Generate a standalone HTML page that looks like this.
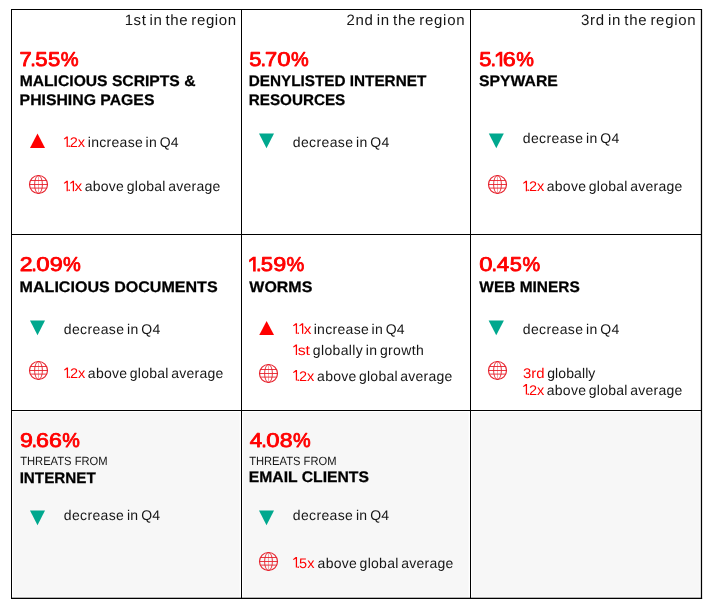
<!DOCTYPE html>
<html><head><meta charset="utf-8">
<style>
html,body{margin:0;padding:0;background:#fff;}
body{width:712px;height:609px;overflow:hidden;}
svg{display:block;will-change:transform;font-family:"Liberation Sans",sans-serif;}
text{white-space:pre;text-rendering:geometricPrecision;}
</style></head><body>
<svg width="712" height="609" viewBox="0 0 712 609">
<g fill="#f7f7f7"><rect x="13.2" y="412.2" width="226.5" height="184.4"/><rect x="243.3" y="412.2" width="225.3" height="184.4"/><rect x="472.2" y="412.2" width="227.5" height="184.4"/></g>
<g fill="#000" shape-rendering="crispEdges">
<rect x="11" y="9" width="691" height="1"/>
<rect x="11" y="234" width="691" height="1"/>
<rect x="11" y="410" width="691" height="1"/>
<rect x="11" y="9" width="1" height="590"/>
<rect x="241" y="9" width="1" height="590"/>
<rect x="470" y="9" width="1" height="590"/>
</g>
<rect x="11" y="597.7" width="691.1" height="1.3" fill="#000"/><rect x="700.85" y="9" width="1.25" height="590" fill="#000"/>
<text x="124.66" y="25.00" font-size="15" fill="#151515" textLength="111.48" lengthAdjust="spacing" word-spacing="-1.73">1st in the region</text>
<text x="346.45" y="25.00" font-size="15" fill="#151515" textLength="118.11" lengthAdjust="spacing" word-spacing="-1.73">2nd in the region</text>
<text x="580.98" y="25.00" font-size="15" fill="#151515" textLength="114.72" lengthAdjust="spacing" word-spacing="-1.73">3rd in the region</text>
<text transform="translate(19.41,66.00) scale(1.098,1)" font-size="20.0" fill="#ff0000" stroke="#ff0000" stroke-width="0.8" stroke-linejoin="round">7</text>
<text transform="translate(30.34,66.00) scale(1.004,1)" font-size="20.0" fill="#ff0000" stroke="#ff0000" stroke-width="0.8" stroke-linejoin="round">.</text>
<text transform="translate(35.25,66.00) scale(1.106,1)" font-size="20.0" fill="#ff0000" stroke="#ff0000" stroke-width="0.8" stroke-linejoin="round">5</text>
<text transform="translate(47.88,66.00) scale(1.106,1)" font-size="20.0" fill="#ff0000" stroke="#ff0000" stroke-width="0.8" stroke-linejoin="round">5</text>
<text transform="translate(60.68,66.00) scale(1.003,1)" font-size="20.0" fill="#ff0000" stroke="#ff0000" stroke-width="0.8" stroke-linejoin="round">%</text>
<text transform="translate(249.31,66.00) scale(1.097,1)" font-size="20.0" fill="#ff0000" stroke="#ff0000" stroke-width="0.8" stroke-linejoin="round">5</text>
<text transform="translate(260.41,66.00) scale(0.997,1)" font-size="20.0" fill="#ff0000" stroke="#ff0000" stroke-width="0.8" stroke-linejoin="round">.</text>
<text transform="translate(265.04,66.00) scale(1.090,1)" font-size="20.0" fill="#ff0000" stroke="#ff0000" stroke-width="0.8" stroke-linejoin="round">7</text>
<text transform="translate(277.30,66.00) scale(1.195,1)" font-size="20.0" fill="#ff0000" stroke="#ff0000" stroke-width="0.8" stroke-linejoin="round">0</text>
<text transform="translate(291.12,66.00) scale(0.995,1)" font-size="20.0" fill="#ff0000" stroke="#ff0000" stroke-width="0.8" stroke-linejoin="round">%</text>
<text transform="translate(479.31,66.00) scale(1.095,1)" font-size="20.0" fill="#ff0000" stroke="#ff0000" stroke-width="0.8" stroke-linejoin="round">5</text>
<text transform="translate(490.39,66.00) scale(0.995,1)" font-size="20.0" fill="#ff0000" stroke="#ff0000" stroke-width="0.8" stroke-linejoin="round">.</text>
<polygon fill="#ff0000" points="495.69,54.70 499.64,51.80 502.27,51.80 502.27,66.40 499.64,66.40 499.64,54.80 496.19,57.30 495.69,57.00"/>
<text x="493.69" y="66.00" font-size="20.0" fill="none">1</text>
<text transform="translate(502.80,66.00) scale(1.162,1)" font-size="20.0" fill="#ff0000" stroke="#ff0000" stroke-width="0.8" stroke-linejoin="round">6</text>
<text transform="translate(516.15,66.00) scale(0.993,1)" font-size="20.0" fill="#ff0000" stroke="#ff0000" stroke-width="0.8" stroke-linejoin="round">%</text>
<text transform="translate(19.80,271.00) scale(1.153,1)" font-size="20.0" fill="#ff0000" stroke="#ff0000" stroke-width="0.8" stroke-linejoin="round">2</text>
<text transform="translate(31.30,271.00) scale(1.001,1)" font-size="20.0" fill="#ff0000" stroke="#ff0000" stroke-width="0.8" stroke-linejoin="round">.</text>
<text transform="translate(36.18,271.00) scale(1.200,1)" font-size="20.0" fill="#ff0000" stroke="#ff0000" stroke-width="0.8" stroke-linejoin="round">0</text>
<text transform="translate(49.70,271.00) scale(1.168,1)" font-size="20.0" fill="#ff0000" stroke="#ff0000" stroke-width="0.8" stroke-linejoin="round">9</text>
<text transform="translate(63.04,271.00) scale(0.999,1)" font-size="20.0" fill="#ff0000" stroke="#ff0000" stroke-width="0.8" stroke-linejoin="round">%</text>
<polygon fill="#ff0000" points="249.10,259.70 253.07,256.80 255.72,256.80 255.72,271.40 253.07,271.40 253.07,259.80 249.60,262.30 249.10,262.00"/>
<text x="247.10" y="271.00" font-size="20.0" fill="none">1</text>
<text transform="translate(255.89,271.00) scale(1.001,1)" font-size="20.0" fill="#ff0000" stroke="#ff0000" stroke-width="0.8" stroke-linejoin="round">.</text>
<text transform="translate(260.79,271.00) scale(1.102,1)" font-size="20.0" fill="#ff0000" stroke="#ff0000" stroke-width="0.8" stroke-linejoin="round">5</text>
<text transform="translate(273.19,271.00) scale(1.169,1)" font-size="20.0" fill="#ff0000" stroke="#ff0000" stroke-width="0.8" stroke-linejoin="round">9</text>
<text transform="translate(286.54,271.00) scale(0.999,1)" font-size="20.0" fill="#ff0000" stroke="#ff0000" stroke-width="0.8" stroke-linejoin="round">%</text>
<text transform="translate(479.30,271.00) scale(1.192,1)" font-size="20.0" fill="#ff0000" stroke="#ff0000" stroke-width="0.8" stroke-linejoin="round">0</text>
<text transform="translate(491.48,271.00) scale(0.994,1)" font-size="20.0" fill="#ff0000" stroke="#ff0000" stroke-width="0.8" stroke-linejoin="round">.</text>
<text transform="translate(496.71,271.00) scale(1.117,1)" font-size="20.0" fill="#ff0000" stroke="#ff0000" stroke-width="0.8" stroke-linejoin="round">4</text>
<text transform="translate(509.73,271.00) scale(1.094,1)" font-size="20.0" fill="#ff0000" stroke="#ff0000" stroke-width="0.8" stroke-linejoin="round">5</text>
<text transform="translate(522.41,271.00) scale(0.993,1)" font-size="20.0" fill="#ff0000" stroke="#ff0000" stroke-width="0.8" stroke-linejoin="round">%</text>
<text transform="translate(19.88,447.00) scale(1.157,1)" font-size="20.0" fill="#ff0000" stroke="#ff0000" stroke-width="0.8" stroke-linejoin="round">9</text>
<text transform="translate(31.49,447.00) scale(0.991,1)" font-size="20.0" fill="#ff0000" stroke="#ff0000" stroke-width="0.8" stroke-linejoin="round">.</text>
<text transform="translate(36.06,447.00) scale(1.158,1)" font-size="20.0" fill="#ff0000" stroke="#ff0000" stroke-width="0.8" stroke-linejoin="round">6</text>
<text transform="translate(48.92,447.00) scale(1.158,1)" font-size="20.0" fill="#ff0000" stroke="#ff0000" stroke-width="0.8" stroke-linejoin="round">6</text>
<text transform="translate(62.22,447.00) scale(0.989,1)" font-size="20.0" fill="#ff0000" stroke="#ff0000" stroke-width="0.8" stroke-linejoin="round">%</text>
<text transform="translate(249.68,447.00) scale(1.117,1)" font-size="20.0" fill="#ff0000" stroke="#ff0000" stroke-width="0.8" stroke-linejoin="round">4</text>
<text transform="translate(261.28,447.00) scale(0.994,1)" font-size="20.0" fill="#ff0000" stroke="#ff0000" stroke-width="0.8" stroke-linejoin="round">.</text>
<text transform="translate(266.13,447.00) scale(1.192,1)" font-size="20.0" fill="#ff0000" stroke="#ff0000" stroke-width="0.8" stroke-linejoin="round">0</text>
<text transform="translate(279.63,447.00) scale(1.154,1)" font-size="20.0" fill="#ff0000" stroke="#ff0000" stroke-width="0.8" stroke-linejoin="round">8</text>
<text transform="translate(292.91,447.00) scale(0.993,1)" font-size="20.0" fill="#ff0000" stroke="#ff0000" stroke-width="0.8" stroke-linejoin="round">%</text>
<text x="19.71" y="85.50" font-size="15.3" font-weight="bold" fill="#000" textLength="175.75" lengthAdjust="spacingAndGlyphs" stroke="#000" stroke-width="0.25">MALICIOUS SCRIPTS &amp;</text>
<text x="19.62" y="104.50" font-size="15.3" font-weight="bold" fill="#000" textLength="134.82" lengthAdjust="spacingAndGlyphs" stroke="#000" stroke-width="0.25">PHISHING PAGES</text>
<text x="248.71" y="85.50" font-size="15.3" font-weight="bold" fill="#000" textLength="177.54" lengthAdjust="spacingAndGlyphs" stroke="#000" stroke-width="0.25">DENYLISTED INTERNET</text>
<text x="248.73" y="104.50" font-size="15.3" font-weight="bold" fill="#000" textLength="96.51" lengthAdjust="spacingAndGlyphs" stroke="#000" stroke-width="0.25">RESOURCES</text>
<text x="479.09" y="85.50" font-size="15.3" font-weight="bold" fill="#000" textLength="78.74" lengthAdjust="spacingAndGlyphs" stroke="#000" stroke-width="0.25">SPYWARE</text>
<text x="19.63" y="292.00" font-size="15.3" font-weight="bold" fill="#000" textLength="197.99" lengthAdjust="spacingAndGlyphs" stroke="#000" stroke-width="0.25">MALICIOUS DOCUMENTS</text>
<text x="249.36" y="292.00" font-size="15.3" font-weight="bold" fill="#000" textLength="62.96" lengthAdjust="spacingAndGlyphs" stroke="#000" stroke-width="0.25">WORMS</text>
<text x="479.34" y="292.00" font-size="15.3" font-weight="bold" fill="#000" textLength="100.49" lengthAdjust="spacingAndGlyphs" stroke="#000" stroke-width="0.25">WEB MINERS</text>
<text x="19.65" y="483.00" font-size="15.3" font-weight="bold" fill="#000" textLength="76.16" lengthAdjust="spacingAndGlyphs" stroke="#000" stroke-width="0.25">INTERNET</text>
<text x="248.77" y="482.00" font-size="15.3" font-weight="bold" fill="#000" textLength="120.11" lengthAdjust="spacingAndGlyphs" stroke="#000" stroke-width="0.25">EMAIL CLIENTS</text>
<text x="20.13" y="465.00" font-size="12" fill="#151515" textLength="87.51" lengthAdjust="spacingAndGlyphs">THREATS FROM</text>
<text x="249.13" y="465.00" font-size="12" fill="#151515" textLength="87.35" lengthAdjust="spacingAndGlyphs">THREATS FROM</text>
<polygon fill="#ff0000" points="66.55,136.55 67.85,136.55 67.85,147.00 66.60,147.00 66.60,138.30 64.25,139.60 63.80,138.65"/>
<text x="62.80" y="147.00" font-size="14" fill="none">1</text>
<text x="67.15" y="147.00" font-size="14" fill="#ff0000">.</text>
<text x="69.77" y="147.00" font-size="14" fill="#ff0000" textLength="15.39" lengthAdjust="spacingAndGlyphs">2x</text>
<text x="87.78" y="147.00" font-size="14" fill="#151515" textLength="90.85" lengthAdjust="spacing" word-spacing="-1.61">increase in Q4</text>
<polygon fill="#ff0000" points="66.55,180.80 67.85,180.80 67.85,191.25 66.60,191.25 66.60,182.55 64.25,183.85 63.80,182.90"/>
<text x="62.80" y="191.25" font-size="14" fill="none">1</text>
<text x="67.15" y="191.25" font-size="14" fill="#ff0000">.</text>
<polygon fill="#ff0000" points="72.75,180.80 74.05,180.80 74.05,191.25 72.80,191.25 72.80,182.55 70.45,183.85 70.00,182.90"/>
<text x="69.00" y="191.25" font-size="14" fill="none">1</text>
<text x="74.53" y="191.25" font-size="14" fill="#ff0000" textLength="7.70" lengthAdjust="spacingAndGlyphs">x</text>
<text x="84.71" y="191.25" font-size="14" fill="#151515" textLength="135.67" lengthAdjust="spacing" word-spacing="-1.61">above global average</text>
<text x="292.82" y="147.00" font-size="14" fill="#151515" textLength="96.39" lengthAdjust="spacing" word-spacing="-1.61">decrease in Q4</text>
<text x="522.82" y="142.50" font-size="14" fill="#151515" textLength="96.39" lengthAdjust="spacing" word-spacing="-1.61">decrease in Q4</text>
<polygon fill="#ff0000" points="525.75,180.80 527.05,180.80 527.05,191.25 525.80,191.25 525.80,182.55 523.45,183.85 523.00,182.90"/>
<text x="522.00" y="191.25" font-size="14" fill="none">1</text>
<text x="526.35" y="191.25" font-size="14" fill="#ff0000">.</text>
<text x="528.97" y="191.25" font-size="14" fill="#ff0000" textLength="15.39" lengthAdjust="spacingAndGlyphs">2x</text>
<text x="546.78" y="191.25" font-size="14" fill="#151515" textLength="135.53" lengthAdjust="spacing" word-spacing="-1.61">above global average</text>
<text x="63.82" y="333.75" font-size="14" fill="#151515" textLength="96.39" lengthAdjust="spacing" word-spacing="-1.61">decrease in Q4</text>
<polygon fill="#ff0000" points="66.75,367.55 68.05,367.55 68.05,378.00 66.80,378.00 66.80,369.30 64.45,370.60 64.00,369.65"/>
<text x="63.00" y="378.00" font-size="14" fill="none">1</text>
<text x="67.35" y="378.00" font-size="14" fill="#ff0000">.</text>
<text x="69.97" y="378.00" font-size="14" fill="#ff0000" textLength="15.39" lengthAdjust="spacingAndGlyphs">2x</text>
<text x="87.87" y="378.00" font-size="14" fill="#151515" textLength="135.51" lengthAdjust="spacing" word-spacing="-1.61">above global average</text>
<polygon fill="#ff0000" points="295.75,323.30 297.05,323.30 297.05,333.75 295.80,333.75 295.80,325.05 293.45,326.35 293.00,325.40"/>
<text x="292.00" y="333.75" font-size="14" fill="none">1</text>
<text x="296.35" y="333.75" font-size="14" fill="#ff0000">.</text>
<polygon fill="#ff0000" points="301.95,323.30 303.25,323.30 303.25,333.75 302.00,333.75 302.00,325.05 299.65,326.35 299.20,325.40"/>
<text x="298.20" y="333.75" font-size="14" fill="none">1</text>
<text x="303.73" y="333.75" font-size="14" fill="#ff0000" textLength="7.70" lengthAdjust="spacingAndGlyphs">x</text>
<text x="313.71" y="333.75" font-size="14" fill="#151515" textLength="90.92" lengthAdjust="spacing" word-spacing="-1.61">increase in Q4</text>
<polygon fill="#ff0000" points="295.75,344.55 297.05,344.55 297.05,355.00 295.80,355.00 295.80,346.30 293.45,347.60 293.00,346.65"/>
<text x="292.00" y="355.00" font-size="14" fill="none">1</text>
<text x="297.66" y="355.00" font-size="14" fill="#ff0000" textLength="12.36" lengthAdjust="spacingAndGlyphs">st</text>
<text x="312.82" y="355.00" font-size="14" fill="#151515" textLength="110.88" lengthAdjust="spacing" word-spacing="-1.61">globally in growth</text>
<polygon fill="#ff0000" points="295.75,370.05 297.05,370.05 297.05,380.50 295.80,380.50 295.80,371.80 293.45,373.10 293.00,372.15"/>
<text x="292.00" y="380.50" font-size="14" fill="none">1</text>
<text x="296.35" y="380.50" font-size="14" fill="#ff0000">.</text>
<text x="298.97" y="380.50" font-size="14" fill="#ff0000" textLength="15.39" lengthAdjust="spacingAndGlyphs">2x</text>
<text x="317.12" y="380.50" font-size="14" fill="#151515" textLength="135.26" lengthAdjust="spacing" word-spacing="-1.61">above global average</text>
<text x="522.82" y="333.75" font-size="14" fill="#151515" textLength="96.39" lengthAdjust="spacing" word-spacing="-1.61">decrease in Q4</text>
<text x="522.94" y="377.50" font-size="14" fill="#ff0000" textLength="21.53" lengthAdjust="spacingAndGlyphs">3rd</text>
<text x="547.22" y="377.50" font-size="14" fill="#151515" textLength="48.11" lengthAdjust="spacing">globally</text>
<polygon fill="#ff0000" points="525.75,384.05 527.05,384.05 527.05,394.50 525.80,394.50 525.80,385.80 523.45,387.10 523.00,386.15"/>
<text x="522.00" y="394.50" font-size="14" fill="none">1</text>
<text x="526.35" y="394.50" font-size="14" fill="#ff0000">.</text>
<text x="528.97" y="394.50" font-size="14" fill="#ff0000" textLength="15.39" lengthAdjust="spacingAndGlyphs">2x</text>
<text x="546.78" y="394.50" font-size="14" fill="#151515" textLength="135.53" lengthAdjust="spacing" word-spacing="-1.61">above global average</text>
<text x="63.82" y="520.00" font-size="14" fill="#151515" textLength="96.34" lengthAdjust="spacing" word-spacing="-1.61">decrease in Q4</text>
<text x="292.82" y="520.00" font-size="14" fill="#151515" textLength="96.34" lengthAdjust="spacing" word-spacing="-1.61">decrease in Q4</text>
<polygon fill="#ff0000" points="295.75,557.05 297.05,557.05 297.05,567.50 295.80,567.50 295.80,558.80 293.45,560.10 293.00,559.15"/>
<text x="292.00" y="567.50" font-size="14" fill="none">1</text>
<text x="296.35" y="567.50" font-size="14" fill="#ff0000">.</text>
<text x="299.12" y="567.50" font-size="14" fill="#ff0000" textLength="15.39" lengthAdjust="spacingAndGlyphs">5x</text>
<text x="317.58" y="567.50" font-size="14" fill="#151515" textLength="135.78" lengthAdjust="spacing" word-spacing="-1.61">above global average</text>
<polygon points="30,148.1 45,148.1 37.5,133.6" fill="#ff0000"/>
<polygon points="259.25,335.1 274,335.1 266.625,321" fill="#ff0000"/>
<polygon points="259,133.4 274,133.4 266.5,148.2" fill="#00a88e"/>
<polygon points="488.8,133.4 503.8,133.4 496.3,148.2" fill="#00a88e"/>
<polygon points="30,320.4 45,320.4 37.5,335.2" fill="#00a88e"/>
<polygon points="488.6,320.4 503.9,320.4 496.25,335.2" fill="#00a88e"/>
<polygon points="30,510.4 45,510.4 37.5,525.2" fill="#00a88e"/>
<polygon points="259,510.4 274,510.4 266.5,525.2" fill="#00a88e"/>
<g transform="translate(38.5,184.5)" fill="none" stroke="#e6202b" stroke-width="0.9"><circle r="9.0" stroke-width="1.15"/><ellipse rx="3.9" ry="9.0"/><path d="M-9.0,0H9.0M-8.06,-4.0H8.06M-8.25,3.6H8.25"/><path d="M0,-9.0V9.0" stroke-width="0.4"/></g>
<g transform="translate(497.5,184.5)" fill="none" stroke="#e6202b" stroke-width="0.9"><circle r="9.0" stroke-width="1.15"/><ellipse rx="3.9" ry="9.0"/><path d="M-9.0,0H9.0M-8.06,-4.0H8.06M-8.25,3.6H8.25"/><path d="M0,-9.0V9.0" stroke-width="0.4"/></g>
<g transform="translate(38.5,370.5)" fill="none" stroke="#e6202b" stroke-width="0.9"><circle r="9.0" stroke-width="1.15"/><ellipse rx="3.9" ry="9.0"/><path d="M-9.0,0H9.0M-8.06,-4.0H8.06M-8.25,3.6H8.25"/><path d="M0,-9.0V9.0" stroke-width="0.4"/></g>
<g transform="translate(268.5,373.5)" fill="none" stroke="#e6202b" stroke-width="0.9"><circle r="9.0" stroke-width="1.15"/><ellipse rx="3.9" ry="9.0"/><path d="M-9.0,0H9.0M-8.06,-4.0H8.06M-8.25,3.6H8.25"/><path d="M0,-9.0V9.0" stroke-width="0.4"/></g>
<g transform="translate(497.5,370.5)" fill="none" stroke="#e6202b" stroke-width="0.9"><circle r="9.0" stroke-width="1.15"/><ellipse rx="3.9" ry="9.0"/><path d="M-9.0,0H9.0M-8.06,-4.0H8.06M-8.25,3.6H8.25"/><path d="M0,-9.0V9.0" stroke-width="0.4"/></g>
<g transform="translate(268.5,561.5)" fill="none" stroke="#e6202b" stroke-width="0.9"><circle r="9.0" stroke-width="1.15"/><ellipse rx="3.9" ry="9.0"/><path d="M-9.0,0H9.0M-8.06,-4.0H8.06M-8.25,3.6H8.25"/><path d="M0,-9.0V9.0" stroke-width="0.4"/></g>
</svg>
</body></html>
